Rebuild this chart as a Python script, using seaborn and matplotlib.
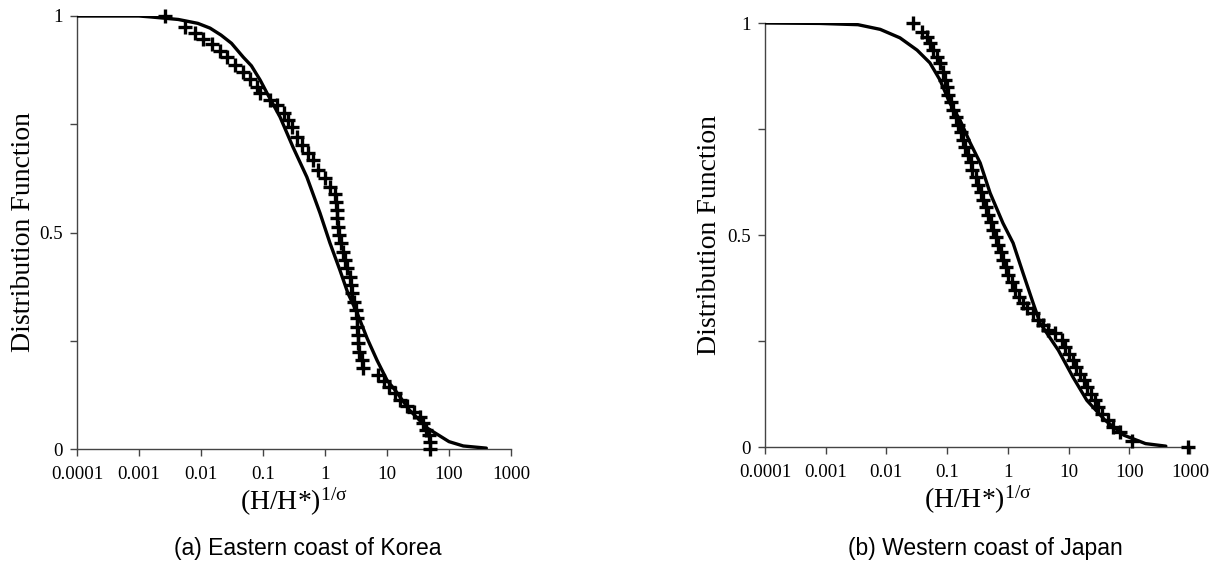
import numpy as np
import pandas as pd
import matplotlib
matplotlib.use("Agg")
import matplotlib.pyplot as plt
import seaborn as sns
from matplotlib.ticker import NullLocator, FixedLocator

# 数据
korea_curve_x = [0.0001, 0.001, 0.0015, 0.0043, 0.0089, 0.014, 0.021, 0.031, 0.048, 0.065,
                 0.09, 0.116, 0.188, 0.305, 0.51, 0.83, 1.2, 1.74, 2.34, 3.3,
                 4.8, 6.9, 10, 14, 23, 45, 100, 170, 400]
korea_curve_y = [1.0, 1.0, 0.998, 0.992, 0.983, 0.972, 0.956, 0.937, 0.905, 0.885,
                 0.852, 0.822, 0.767, 0.697, 0.628, 0.545, 0.476, 0.413, 0.36, 0.314,
                 0.255, 0.205, 0.159, 0.133, 0.09, 0.048, 0.017, 0.007, 0.002]

korea_obs_x = [0.0026, 0.0055, 0.0079, 0.0107, 0.015, 0.020, 0.026, 0.035, 0.048, 0.062,
               0.08, 0.089, 0.128, 0.17, 0.22, 0.25, 0.29, 0.35, 0.43, 0.53,
               0.64, 0.78, 1.0, 1.2, 1.45, 1.5, 1.55, 1.58, 1.63, 1.7,
               1.8, 1.95, 2.1, 2.3, 2.5, 2.6, 2.75, 2.95, 3.2, 3.3,
               3.3, 3.4, 3.4, 3.5, 4.0, 4.1, 7.2, 8.9, 10.7, 13.4,
               16, 21, 27, 34, 38, 43, 48, 50, 50]
korea_obs_y = [1.0, 0.975, 0.96, 0.947, 0.935, 0.92, 0.905, 0.887, 0.871, 0.855,
               0.836, 0.822, 0.806, 0.794, 0.776, 0.76, 0.744, 0.721, 0.702, 0.684,
               0.667, 0.644, 0.626, 0.605, 0.59, 0.57, 0.552, 0.533, 0.513, 0.494,
               0.476, 0.455, 0.437, 0.418, 0.397, 0.379, 0.36, 0.34, 0.321, 0.302,
               0.282, 0.263, 0.245, 0.224, 0.205, 0.187, 0.172, 0.158, 0.143, 0.129,
               0.113, 0.10, 0.086, 0.074, 0.06, 0.044, 0.032, 0.016, 0.0]

japan_curve_x = [0.0001, 0.0008, 0.0034, 0.0079, 0.0167, 0.032, 0.052, 0.076, 0.111, 0.163,
                 0.24, 0.35, 0.51, 0.83, 1.22, 1.78, 2.6, 3.4, 6.8, 11.8,
                 20, 40, 81, 185, 400]
japan_curve_y = [1.0, 0.999, 0.996, 0.985, 0.965, 0.936, 0.906, 0.866, 0.811, 0.771,
                 0.717, 0.67, 0.599, 0.528, 0.481, 0.41, 0.34, 0.292, 0.228, 0.165,
                 0.11, 0.063, 0.028, 0.008, 0.002]

japan_obs_x = [0.0275, 0.039, 0.047, 0.052, 0.059, 0.068, 0.076, 0.085, 0.093, 0.10,
               0.104, 0.115, 0.125, 0.14, 0.15, 0.17, 0.18, 0.20, 0.22, 0.245,
               0.26, 0.30, 0.32, 0.36, 0.39, 0.44, 0.47, 0.52, 0.57, 0.64,
               0.69, 0.78, 0.83, 0.93, 1.0, 1.17, 1.3, 1.5, 1.8, 2.1,
               2.6, 3.1, 3.8, 4.5, 5.9, 7.8, 8.9, 10.2, 11.7, 13.5,
               15.5, 17.8, 20.4, 23, 27, 31, 35, 44, 54, 71,
               112, 940]
japan_obs_y = [1.0, 0.979, 0.967, 0.953, 0.936, 0.92, 0.906, 0.884, 0.866, 0.849,
               0.83, 0.814, 0.795, 0.778, 0.759, 0.743, 0.724, 0.708, 0.689, 0.672,
               0.653, 0.637, 0.618, 0.601, 0.583, 0.566, 0.547, 0.531, 0.512, 0.495,
               0.476, 0.46, 0.441, 0.425, 0.406, 0.389, 0.37, 0.354, 0.34, 0.328,
               0.316, 0.30, 0.288, 0.276, 0.268, 0.252, 0.236, 0.22, 0.205, 0.189,
               0.173, 0.157, 0.142, 0.126, 0.11, 0.094, 0.079, 0.063, 0.047, 0.035,
               0.015, 0.0]

x_ticks = [0.0001, 0.001, 0.01, 0.1, 1, 10, 100, 1000]
x_tick_labels = ['0.0001', '0.001', '0.01', '0.1', '1', '10', '100', '1000']
captions = ['(a) Eastern coast of Korea', '(b) Western coast of Japan']

sns.set_style("ticks")
plt.rcParams['font.family'] = ['Liberation Serif', 'DejaVu Serif']
plt.rcParams['mathtext.fontset'] = 'custom'
plt.rcParams['mathtext.rm'] = 'Liberation Serif'
plt.rcParams['mathtext.it'] = 'Liberation Serif:italic'
plt.rcParams['text.color'] = 'black'
plt.rcParams['axes.labelcolor'] = 'black'
plt.rcParams['xtick.color'] = 'black'
plt.rcParams['ytick.color'] = 'black'

fig = plt.figure(figsize=(12.12, 5.66), dpi=100)
ax1 = fig.add_axes([77 / 1212, 117 / 566, 434 / 1212, 433 / 566])
ax2 = fig.add_axes([765 / 1212, 119 / 566, 425 / 1212, 424 / 566])

panels = [
    (ax1, korea_curve_x, korea_curve_y, korea_obs_x, korea_obs_y),
    (ax2, japan_curve_x, japan_curve_y, japan_obs_x, japan_obs_y),
]

for ax, cx, cy, ox, oy in panels:
    ax.set_xscale('log')
    curve = pd.DataFrame({'x': cx, 'y': cy})
    obs = pd.DataFrame({'x': ox, 'y': oy})
    sns.scatterplot(data=obs, x='x', y='y', marker='+', s=95, linewidth=2.4,
                    color='black', ax=ax, clip_on=False, zorder=3)
    sns.lineplot(data=curve, x='x', y='y', color='black', lw=2.4, ax=ax,
                 sort=True, zorder=4)
    ax.set_xlim(1e-4, 1e3)
    ax.set_ylim(0, 1)
    ax.xaxis.set_major_locator(FixedLocator(x_ticks))
    ax.set_xticklabels(x_tick_labels)
    ax.xaxis.set_minor_locator(NullLocator())
    ax.set_yticks([0, 0.5, 1])
    ax.set_yticklabels(['0', '0.5', '1'])
    ax.yaxis.set_minor_locator(FixedLocator([0.25, 0.75]))
    ax.tick_params(axis='both', which='both', direction='out', length=5, width=1,
                   color='#444444', labelcolor='black', labelsize=13.6, pad=5)
    ax.tick_params(axis='x', pad=7)
    for side in ['top', 'right']:
        ax.spines[side].set_visible(False)
    for side in ['left', 'bottom']:
        ax.spines[side].set_linewidth(1.0)
        ax.spines[side].set_color('#444444')
    ax.set_xlabel(r'(H/H*)$^{\mathrm{1/σ}}$', fontsize=20, labelpad=2)
    ax.set_ylabel('Distribution Function', fontsize=20)

ax1.yaxis.set_label_coords(-0.095, 0.5)
ax2.yaxis.set_label_coords(-0.10, 0.5)

fig.text(308 / 1212, 1 - 549 / 566, captions[0], ha='center', va='center',
         fontsize=16.5, family=['Liberation Sans', 'DejaVu Sans'])
fig.text(985 / 1212, 1 - 549 / 566, captions[1], ha='center', va='center',
         fontsize=16.5, family=['Liberation Sans', 'DejaVu Sans'])

fig.savefig('out.png', dpi=100)
